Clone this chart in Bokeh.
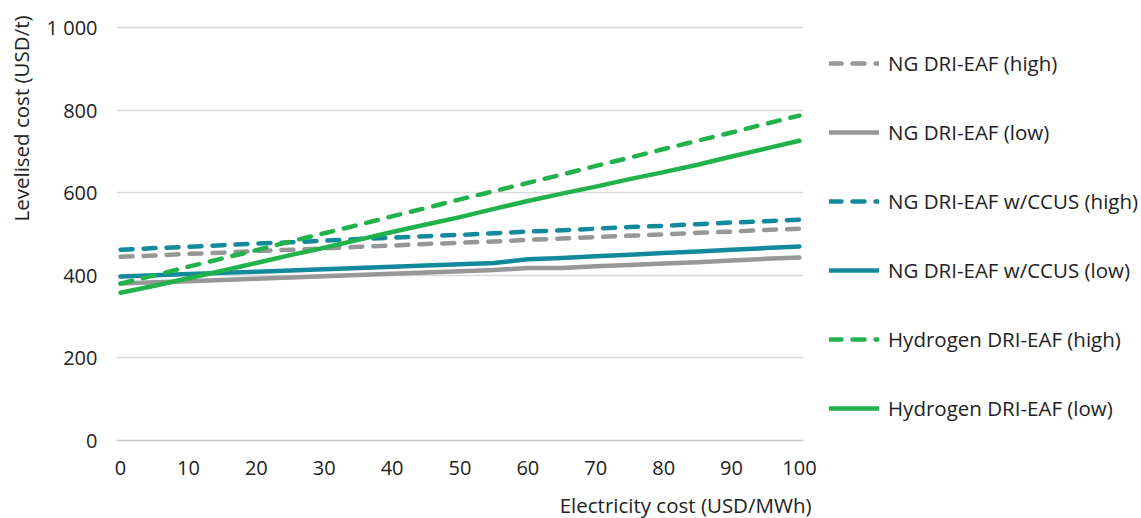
from bokeh.plotting import figure
from bokeh.models import Legend, LegendItem, Title, Range1d, FixedTicker
from bokeh.embed import file_html
from bokeh.resources import INLINE

# ---- data ----
elec_cost = [0, 5, 10, 15, 20, 25, 30, 35, 40, 45, 50, 55, 60, 65, 70, 75, 80, 85, 90, 95, 100]
ng_high = [445, 448, 452, 455, 459, 462, 465, 469, 472, 476, 479, 482, 486, 489, 493, 496, 499, 503, 506, 510, 513]
ng_low = [380, 383, 386, 389, 392, 395, 398, 401, 404, 407, 410, 413, 418, 418, 422, 425, 429, 432, 436, 440, 443]
ccus_high = [462, 466, 469, 473, 477, 480, 484, 488, 491, 495, 498, 502, 506, 509, 513, 517, 520, 524, 528, 531, 535]
ccus_low = [397, 400, 403, 406, 409, 412, 415, 418, 421, 424, 427, 430, 439, 442, 446, 450, 454, 458, 462, 466, 470]
h2_high = [380, 400, 421, 441, 461, 482, 502, 522, 543, 563, 584, 604, 624, 644, 665, 685, 706, 726, 746, 767, 787]
h2_low = [358, 375, 393, 411, 430, 449, 467, 486, 505, 523, 541, 561, 580, 598, 615, 633, 650, 668, 688, 707, 726]

series_names = ["NG DRI-EAF (high)", "NG DRI-EAF (low)", "NG DRI-EAF w/CCUS (high)",
                "NG DRI-EAF w/CCUS (low)", "Hydrogen DRI-EAF (high)", "Hydrogen DRI-EAF (low)"]
series_values = [ng_high, ng_low, ccus_high, ccus_low, h2_high, h2_low]

x_ticks = [0, 10, 20, 30, 40, 50, 60, 70, 80, 90, 100]
y_ticks = [0, 200, 400, 600, 800, 1000]
y_tick_labels = ["0", "200", "400", "600", "800", "1 000"]

x_title = "Electricity cost (USD/MWh)"
y_title = "Levelised cost (USD/t)"

# ---- styles ----
GREY = "#979797"
TEAL = "#138a9b"
GREEN = "#22b24c"
colors = [GREY, GREY, TEAL, TEAL, GREEN, GREEN]
dashes = ["12 11", "solid", "12 11", "solid", "12 11", "solid"]
FONT = "Open Sans"
FS = "20px"
FS_T = "20.5px"
TXT = "#222222"

FW, FH = 687, 417
p = figure(frame_width=FW, frame_height=FH, output_backend="svg", toolbar_location=None,
           x_range=Range1d(-0.6, 100.6), y_range=Range1d(0, 1010),
           min_border_left=115, min_border_right=0, min_border_top=23, min_border_bottom=78)
p.outline_line_color = None
p.background_fill_color = "white"

items = []
for name, vals, c, d in zip(series_names, series_values, colors, dashes):
    r = p.line(elec_cost, vals, line_color=c, line_width=4.5, line_dash=d,
               line_cap="round", line_join="round")
    items.append(LegendItem(label=name, renderers=[r]))

p.xgrid.visible = False
p.ygrid.grid_line_color = "#d9d9d9"
p.ygrid.grid_line_width = 1.5

p.xaxis.ticker = FixedTicker(ticks=x_ticks)
p.yaxis.ticker = FixedTicker(ticks=y_ticks)
p.yaxis.major_label_overrides = {t: l for t, l in zip(y_ticks, y_tick_labels)}

for ax in (p.xaxis[0], p.yaxis[0]):
    ax.major_tick_line_color = None
    ax.minor_tick_line_color = None
    ax.major_label_text_font = FONT
    ax.major_label_text_font_size = FS
    ax.major_label_text_color = TXT
p.yaxis.axis_line_color = None
p.xaxis.axis_line_color = "#c8c8c8"
p.xaxis.axis_line_width = 1.5
p.yaxis.major_label_standoff = 13
p.xaxis.major_label_standoff = 14

xt = Title(text=x_title, align="right", text_font=FONT, text_font_size=FS_T,
           text_font_style="normal", text_color=TXT, offset=-8, standoff=23)
p.add_layout(xt, "below")
yt = Title(text=y_title, align="right", vertical_align="top", text_font=FONT,
           text_font_size=FS_T, text_font_style="normal", text_color=TXT,
           offset=-8, standoff=13)
p.add_layout(yt, "left")

legend = Legend(items=items, location=(26, 18), glyph_width=50, glyph_height=28,
                label_height=28, spacing=41, label_standoff=9, padding=0, margin=0,
                label_text_font=FONT, label_text_font_size=FS_T, label_text_color=TXT,
                background_fill_alpha=0, border_line_alpha=0)
p.add_layout(legend, "right")

open("out.html", "w").write(file_html(p, INLINE))
